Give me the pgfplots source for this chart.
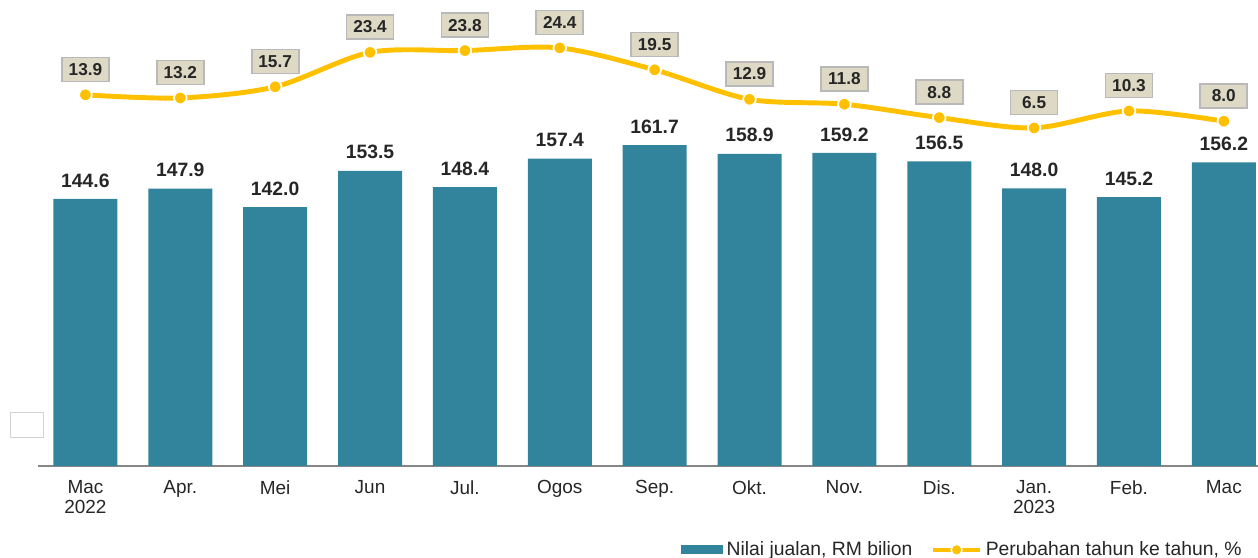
\documentclass[border=0pt]{standalone}
\usepackage{pgfplots}
\pgfplotsset{compat=1.18}
\usepackage{fontspec}
\setmainfont{Liberation Sans}
\definecolor{barTeal}{HTML}{31849B}
\definecolor{lineGold}{HTML}{FFC000}
\definecolor{boxTan}{HTML}{DDD9C4}
\definecolor{axisGray}{HTML}{868686}
\definecolor{txt}{HTML}{262626}

\begin{document}
\begin{tikzpicture}
\pgfplotsset{
  every axis/.append style={
    scale only axis, width=24.4cm, height=9.32cm,
    xmin=-0.5, xmax=12.36,
  },
}
% bars: sales value
\begin{axis}[name=ax,
    ymin=60, ymax=207.66,
    axis x line*=bottom, axis y line=none,
    x axis line style={draw=axisGray, line width=0.6pt},
    ybar, bar width=1.28cm,
    xtick={0,...,12},
    xticklabels={{Mac\\2022},Apr.,Mei,Jun,Jul.,Ogos,Sep.,Okt.,Nov.,Dis.,{Jan.\\2023},Feb.,Mac},
    major tick length=0pt,
    xticklabel style={font=\fontsize{10.8}{11}\selectfont, text=txt, align=center, yshift=-0.17cm},
    nodes near coords={\pgfmathprintnumber[fixed,fixed zerofill,precision=1,assume math mode=true]{\pgfplotspointmeta}},
    every node near coord/.append style={font=\fontsize{11}{12}\selectfont\bfseries, text=txt, yshift=0.11cm},
    legend style={at={(0.994,-0.180)}, anchor=east, draw=none, fill=none, legend columns=2,
      font=\fontsize{11}{12}\selectfont, text=txt,
      /tikz/every even column/.append style={column sep=0.3cm}},
    legend cell align=left,
]
\addplot[fill=barTeal, draw=none,
  legend image code/.code={\fill[barTeal] (0cm,-0.09cm) rectangle (0.84cm,0.09cm);}]
  coordinates {(0,144.6) (1,147.9) (2,142.0) (3,153.5) (4,148.4) (5,157.4) (6,161.7)
               (7,158.9) (8,159.2) (9,156.5) (10,148.0) (11,145.2) (12,156.2)};
\addlegendentry{Nilai jualan, RM bilion}
\addlegendimage{legend image code/.code={
  \draw[lineGold, line width=2.4pt] (0cm,0cm) -- (0.94cm,0cm);
  \draw[white, fill=lineGold, line width=0.8pt] (0.47cm,0cm) circle (0.11cm);}}
\addlegendentry{Perubahan tahun ke tahun, \%}
\end{axis}
% line: year-on-year change
\begin{axis}[
    ymin=-69.13, ymax=35.12,
    hide x axis, hide y axis,
    nodes near coords={\pgfmathprintnumber[fixed,fixed zerofill,precision=1,assume math mode=true]{\pgfplotspointmeta}},
    every node near coord/.append style={font=\fontsize{9.8}{11}\selectfont\bfseries, text=txt,
      fill=boxTan, draw=gray!55, minimum width=0.94cm, minimum height=0.48cm, inner sep=1pt,
      anchor=south, yshift=0.25cm},
]
\addplot[lineGold, line width=2.8pt, smooth, mark=*, mark size=3.6pt,
  mark options={fill=lineGold, draw=white, line width=1pt}]
  coordinates {(0,13.9) (1,13.2) (2,15.7) (3,23.4) (4,23.8) (5,24.4) (6,19.5)
               (7,12.9) (8,11.8) (9,8.8) (10,6.5) (11,10.3) (12,8.0)};
\end{axis}
\draw[gray!35] ([xshift=-0.56cm,yshift=0.58cm]ax.south west) rectangle ([xshift=0.1cm,yshift=1.08cm]ax.south west);
\pgfresetboundingbox
\path[use as bounding box] ([xshift=-0.76cm,yshift=-1.84cm]ax.south west) rectangle (ax.north east);
\end{tikzpicture}
\end{document}
